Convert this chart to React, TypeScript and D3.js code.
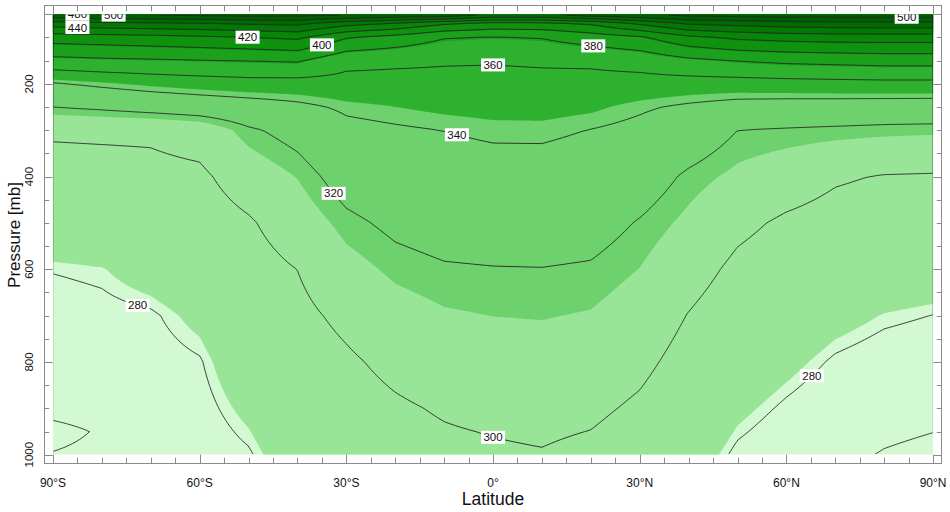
import React from 'react';
import * as d3 from 'd3';

// ---- data: potential temperature (K) by pressure level (rows) and latitude (columns)
const latitudes = [-90, -80, -70, -60, -50, -40, -30, -20, -10, 0, 10, 20, 30, 40, 50, 60, 70, 80, 90];
const pressureLevels = [50, 70, 100, 150, 200, 250, 300, 400, 500, 600, 700, 800, 900, 950, 1000];

const theta50 = [498, 504, 505, 507, 510, 508.6, 505.6, 500, 499, 481, 481, 494.3, 501, 508.6, 510.8, 512, 512, 512, 512];
const theta70 = [450, 453.7, 455.7, 457.8, 461.9, 464.1, 447.2, 437.8, 422.1, 413.7, 414.7, 422.1, 442.8, 462.1, 466.4, 470.7, 473, 473.7, 473.7];
const theta100 = [409, 410.9, 413.1, 415.9, 419.2, 423.4, 401.3, 392.5, 381, 378.9, 380.9, 389.2, 396.7, 415.1, 423.4, 427, 428.6, 429, 429];
const theta150 = [374, 376.2, 377.6, 379.1, 380.4, 381.9, 365.5, 363.5, 361.8, 361.2, 362.2, 363, 367, 375.4, 380.5, 383.9, 385.6, 387.3, 387.3];
const theta200 = [338.5, 343.1, 347.2, 350.2, 352.5, 352.4, 353.4, 353.6, 354.3, 354.7, 355.1, 354.5, 353.2, 352, 352, 353.1, 353.9, 354.6, 354.6];
const theta250 = [320, 322.5, 325.8, 328.8, 332, 336.5, 342.4, 344.9, 347.3, 348.5, 348.8, 346.9, 341.9, 337.7, 333.9, 332.8, 332.3, 331.6, 331.3];
const theta300 = [301.8, 302.2, 302.2, 305.5, 318, 324.9, 336.1, 338.3, 340.2, 342.3, 342.4, 339.7, 336.3, 329.9, 320, 318.7, 317.5, 316.3, 315.7];
const theta400 = [294.6, 295.1, 296.4, 297.5, 306.8, 314.4, 326.1, 330.6, 332.9, 334, 334.1, 332.5, 327.4, 317.8, 311.6, 306.8, 301.5, 299.3, 298.8];
const theta500 = [287.6, 288.5, 290.5, 293.4, 298.5, 307.3, 317.2, 322.8, 325.7, 326.7, 326.9, 325.4, 319.1, 311.6, 303.1, 297.9, 295, 293.3, 292.5];
const theta600 = [280.3, 281.2, 284.6, 288.3, 294.7, 300.1, 310.1, 316, 318.8, 319.5, 319.7, 318.7, 313.8, 305.4, 297.1, 293.1, 289.5, 287.2, 286.2];
const theta700 = [277.2, 278.3, 279.2, 283.2, 290.8, 296.7, 303, 309.6, 312.9, 314.1, 314.5, 313.3, 308.5, 299.5, 292.5, 288.3, 284, 281.2, 279.9];
const theta800 = [274.1, 275.9, 277.7, 279.5, 287, 293.3, 298.1, 303.2, 307.1, 308.7, 309.3, 307.9, 303.2, 295.1, 287.8, 283.5, 279.1, 277, 276];
const theta900 = [271.3, 272, 275.9, 278, 283.1, 289.9, 294.8, 298.3, 301.2, 303.3, 304.1, 302.5, 297.9, 290.8, 283.2, 278.9, 275.5, 273.3, 272.1];
const theta950 = [268.8, 270.4, 274.9, 277.2, 281.2, 288.2, 293.2, 296.7, 299.1, 300.5, 301.5, 299.8, 295.2, 288.6, 280.9, 276.9, 273.8, 271.4, 270.1];
const theta1000 = [270.2, 271, 274, 276.5, 279.3, 286.5, 291.5, 295, 297.5, 298.5, 299.3, 297, 292.5, 286.5, 278.5, 275, 272, 269.5, 268];

const thetaRows = [theta50, theta70, theta100, theta150, theta200, theta250, theta300, theta400,
  theta500, theta600, theta700, theta800, theta900, theta950, theta1000];

// contour lines and shading levels
const lineLevels = [270, 280, 300, 320, 340, 360, 380, 400, 420, 440, 460, 480, 500];
const fillLevels = [281.5, 314, 345, 378, 398, 418, 438, 458, 478];
const fillColors = ['#d3f9d3', '#98e598', '#6dd16d', '#2eb12e', '#1ca11c', '#0f930f', '#078607', '#027902', '#006c00', '#005f00'];

// contour labels
const labelLevels = [280, 280, 300, 320, 340, 360, 380, 400, 420, 440, 480, 500, 500];
const labelLats = [-72.7, 65.2, 0, -32.6, -7.4, 0, 20.5, -35, -50.2, -85, -85, -77.6, 84.6];
const labelNudge = [0, 0, 0, 0, 0, 0, 0, 0, 0, 0, -4, 0, 0];

// axes
const latTicks = [-90, -60, -30, 0, 30, 60, 90];
const latTickLabels = ['90°S', '60°S', '30°S', '0°', '30°N', '60°N', '90°N'];
const pTicks = [200, 400, 600, 800, 1000];

const X0 = 52.7, X1 = 933.3, Y0 = 14.3, Y1 = 454.7;
const FR = { l: 44.5, t: 5.5, r: 941.5, b: 463.5 };
const xScale = d3.scaleLinear().domain([-90, 90]).range([X0 + 0.3, X1 - 0.2]);
const yScale = d3.scaleLinear().domain([50, 1000]).range([Y0, Y1]);

function thetaAt(lat: number, p: number): number {
  const fx = (lat - latitudes[0]) / (latitudes[1] - latitudes[0]);
  let i = Math.floor(fx);
  i = Math.max(0, Math.min(latitudes.length - 2, i));
  const tx = Math.max(0, Math.min(1, fx - i));
  let k = d3.bisectRight(pressureLevels, p) - 1;
  k = Math.max(0, Math.min(pressureLevels.length - 2, k));
  const tp = Math.max(0, Math.min(1, (p - pressureLevels[k]) / (pressureLevels[k + 1] - pressureLevels[k])));
  const r0 = thetaRows[k], r1 = thetaRows[k + 1];
  const a = (1 - tx) * r0[i] + tx * r0[i + 1];
  const b = (1 - tx) * r1[i] + tx * r1[i + 1];
  return (1 - tp) * a + tp * b;
}

function labelY(level: number, lat: number): number {
  let prev = thetaAt(lat, 50) - level;
  for (let p = 50.5; p <= 1000; p += 0.5) {
    const cur = thetaAt(lat, p) - level;
    if (prev === 0 || prev * cur < 0) {
      const pp = p - 0.5 + 0.5 * (prev / (prev - cur));
      return yScale(pp);
    }
    prev = cur;
  }
  return Y0 - 2;
}

export default function App() {
  const nx = 440, ny = 220;
  const cw = (X1 - X0) / nx, ch = (Y1 - Y0) / ny;
  const values: number[] = new Array(nx * ny);
  for (let j = 0; j < ny; j++) {
    const p = yScale.invert(Y0 + (j + 0.5) * ch);
    for (let i = 0; i < nx; i++) {
      const lat = xScale.invert(X0 + (i + 0.5) * cw);
      values[j * nx + i] = thetaAt(lat, p);
    }
  }
  const fills = d3.contours().size([nx, ny]).thresholds(fillLevels)(values);
  const lines = d3.contours().size([nx, ny]).thresholds(lineLevels)(values);
  const proj = d3.geoTransform({
    point(x: number, y: number) {
      (this as any).stream.point(X0 + x * cw, Y0 + y * ch);
    },
  });
  const path = d3.geoPath(proj as any);

  const latMinor = d3.range(-90, 91, 5);
  const pMinor = d3.range(50, 1001, 50);
  const font = "'Liberation Sans', Arial, Helvetica, sans-serif";
  const frameColor = '#8a8a8a';

  return (
    <svg width={950} height={512} style={{ position: 'absolute', left: 0, top: 0, background: '#fff' }}
      fontFamily={font}>
      <defs>
        <clipPath id="plotClip">
          <rect x={X0} y={Y0} width={X1 - X0} height={Y1 - Y0} />
        </clipPath>
        <clipPath id="lineClip">
          <rect x={X0 + 0.7} y={Y0 + 0.7} width={X1 - X0 - 1.4} height={Y1 - Y0 - 1.4} />
        </clipPath>
      </defs>
      <g clipPath="url(#plotClip)">
        <rect x={X0} y={Y0} width={X1 - X0} height={Y1 - Y0} fill={fillColors[0]} />
        {fills.map((c, k) => (
          <path key={k} d={path(c as any) || ''} fill={fillColors[k + 1]} stroke="none" />
        ))}
      </g>
      <g clipPath="url(#lineClip)">
        {lines.map((c, k) => (
          <path key={k} d={path(c as any) || ''} fill="none" stroke="#262626" strokeWidth={0.9} />
        ))}
      </g>
      <g clipPath="url(#plotClip)">
        {labelLevels.map((lv, k) => {
          const cx = xScale(labelLats[k]);
          const cy = labelY(lv, labelLats[k]) + labelNudge[k];
          return (
            <g key={k}>
              <rect x={cx - 12} y={cy - 6.5} width={24} height={13} fill="#fff" />
              <text x={cx} y={cy + 4} textAnchor="middle" fontSize={11.5} fill="#111">{lv}</text>
            </g>
          );
        })}
      </g>
      {/* frame and ticks */}
      <rect x={FR.l} y={FR.t} width={FR.r - FR.l} height={FR.b - FR.t} fill="none" stroke={frameColor} strokeWidth={1} />
      {latMinor.map((lat) => {
        const x = Math.round(xScale(lat)) + 0.5;
        const major = lat % 30 === 0;
        return (
          <g key={'lt' + lat} stroke={frameColor} strokeWidth={1}>
            <line x1={x} x2={x} y1={FR.b} y2={major ? Y1 : Y1 + 3} />
            <line x1={x} x2={x} y1={FR.t} y2={major ? Y0 : Y0 - 3} />
          </g>
        );
      })}
      {pMinor.map((p) => {
        const y = Math.round(yScale(p)) + 0.5;
        const major = p % 200 === 0 || p === 50;
        return (
          <g key={'pt' + p} stroke={frameColor} strokeWidth={1}>
            <line x1={FR.l} x2={major ? X0 : X0 - 3.5} y1={y} y2={y} />
            <line x1={FR.r} x2={major ? X1 : X1 + 3.5} y1={y} y2={y} />
          </g>
        );
      })}
      {latTicks.map((lat, k) => (
        <text key={'xl' + lat} x={xScale(lat)} y={486.5} textAnchor="middle" fontSize={12} fill="#111">
          {latTickLabels[k]}
        </text>
      ))}
      {pTicks.map((p) => (
        <text key={'yl' + p} transform={`translate(33,${yScale(p)}) rotate(-90)`} textAnchor="middle"
          fontSize={11.5} fill="#111">
          {p}
        </text>
      ))}
      <text x={493} y={505} textAnchor="middle" fontSize={17.5} fill="#111">Latitude</text>
      <text transform={`translate(20,235) rotate(-90)`} textAnchor="middle" fontSize={17} fill="#111">
        Pressure [mb]
      </text>
    </svg>
  );
}
